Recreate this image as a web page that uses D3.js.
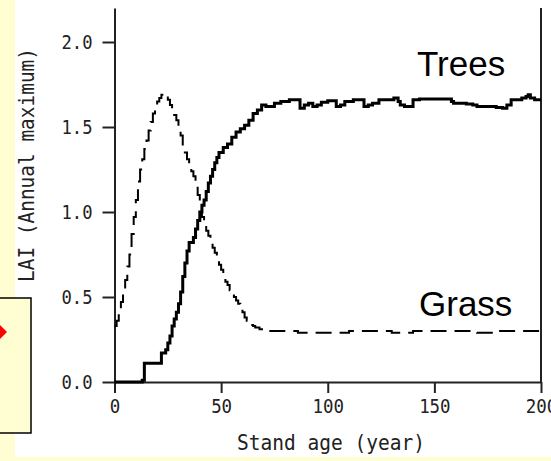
<!DOCTYPE html>
<meta charset="utf-8">
<script src="https://d3js.org/d3.v7.min.js"></script>
<style>
  body { margin: 0; }
</style>
<svg id="chart" width="551" height="461"></svg>
<script>

// Stand age (year) and annual max LAI
var treeYears = [0,13,14,21,22,24,25,26,27,28,29,30,31,32,33,34,35,37,38,39,40,41,42,43,44,45,46,47,48,49,51,53,55,57,59,61,63,65,67,69,71,73,75,78,82,85,87,89,91,93,95,97,100,103,104,106,108,112,116,117,119,121,124,128,131,133,134,136,139,140,143,150,156,158,159,163,165,168,170,174,176,179,182,184,186,189,191,193,194,195,197,200];
var treeLAI   = [0,0.01,0.11,0.11,0.17,0.19,0.23,0.27,0.33,0.37,0.41,0.46,0.53,0.62,0.70,0.77,0.82,0.85,0.90,0.95,1.00,1.04,1.07,1.12,1.17,1.21,1.25,1.29,1.32,1.35,1.38,1.40,1.44,1.47,1.49,1.51,1.54,1.58,1.60,1.63,1.62,1.62,1.64,1.65,1.66,1.66,1.61,1.63,1.64,1.62,1.63,1.645,1.655,1.655,1.62,1.63,1.65,1.66,1.66,1.62,1.63,1.64,1.66,1.66,1.67,1.65,1.63,1.62,1.62,1.66,1.665,1.665,1.665,1.65,1.64,1.64,1.635,1.63,1.62,1.62,1.62,1.615,1.61,1.63,1.66,1.66,1.67,1.68,1.69,1.67,1.66,1.66];

var grassYears = [0,1,2,3,4,5,6,7,8,9,10,11,12,13,14,15,16,17,18,19,20,21,22,23,24,25,26,27,28,29,30,31,32,33,34,35,36,37,38,39,40,41,42,43,44,45,46,47,48,49,50,51,52,53,54,55,56,57,58,59,60,61,62,63,64,65,66,68,70,75,80,86,90,100,110,120,130,140,150,160,170,175,180,190,200];
var grassLAI   = [0.33,0.36,0.42,0.47,0.53,0.60,0.68,0.75,0.87,0.97,1.07,1.18,1.25,1.31,1.37,1.42,1.48,1.53,1.58,1.62,1.65,1.67,1.69,1.695,1.68,1.66,1.63,1.60,1.57,1.54,1.50,1.45,1.39,1.35,1.31,1.27,1.24,1.21,1.16,1.10,1.03,0.97,0.93,0.89,0.86,0.83,0.79,0.76,0.72,0.69,0.66,0.62,0.59,0.57,0.54,0.52,0.50,0.48,0.46,0.44,0.41,0.38,0.36,0.345,0.335,0.33,0.32,0.31,0.30,0.30,0.30,0.29,0.29,0.29,0.30,0.30,0.29,0.30,0.30,0.30,0.29,0.29,0.30,0.30,0.30];

var xTicks = [0, 50, 100, 150, 200];
var yTicks = [0, 0.5, 1.0, 1.5, 2.0];

var svg = d3.select("#chart");

// page background: pale yellow frame round a white panel
svg.append("rect").attr("width", 551).attr("height", 461).attr("fill", "#fffdd2");
svg.append("rect").attr("x", 15).attr("y", 0).attr("width", 536).attr("height", 457).attr("fill", "#fff");

// scales
var x = d3.scaleLinear().domain([0, 200]).range([114.5, 541]);
var y = d3.scaleLinear().domain([0, 2.2]).range([382, 8]);

var monoFont = "DejaVu Sans Mono, Liberation Mono, monospace";

// y axis
var yAxis = svg.append("g")
  .attr("transform", "translate(" + x(0) + ",0)")
  .call(d3.axisLeft(y).tickValues(yTicks).tickFormat(d3.format(".1f"))
    .tickSize(12).tickSizeOuter(0).tickPadding(10));
yAxis.attr("font-family", monoFont).attr("font-size", 20);
yAxis.selectAll("text").attr("fill", "#222")
  .attr("textLength", function(d) { return 31; })
  .attr("lengthAdjust", "spacingAndGlyphs");

// x axis
var xAxis = svg.append("g")
  .attr("transform", "translate(0," + y(0) + ")")
  .call(d3.axisBottom(x).tickValues(xTicks).tickFormat(d3.format("d"))
    .tickSize(11).tickSizeOuter(0).tickPadding(6));
xAxis.attr("font-family", monoFont).attr("font-size", 20);
xAxis.selectAll("text").attr("fill", "#222")
  .attr("textLength", function(d) { return String(d).length * 10.5; })
  .attr("lengthAdjust", "spacingAndGlyphs");

svg.selectAll(".domain, .tick line").attr("stroke", "#222").attr("stroke-width", 2);

// right edge line
svg.append("line")
  .attr("x1", x(200)).attr("x2", x(200))
  .attr("y1", y(2.2)).attr("y2", y(0))
  .attr("stroke", "#222").attr("stroke-width", 2);

// axis titles
svg.append("text")
  .attr("x", 331).attr("y", 450)
  .attr("text-anchor", "middle")
  .attr("font-family", monoFont).attr("font-size", 22).attr("fill", "#222")
  .attr("textLength", 188).attr("lengthAdjust", "spacingAndGlyphs")
  .text("Stand age (year)");

svg.append("text")
  .attr("transform", "translate(34,165) rotate(-90)")
  .attr("text-anchor", "middle")
  .attr("font-family", monoFont).attr("font-size", 22).attr("fill", "#222")
  .attr("textLength", 234).attr("lengthAdjust", "spacingAndGlyphs")
  .text("LAI (Annual maximum)");

// lines
var line = d3.line()
  .x(function(d) { return x(d[0]); })
  .y(function(d) { return y(d[1]); })
  .curve(d3.curveStepAfter);

svg.append("path")
  .datum(d3.zip(grassYears, grassLAI))
  .attr("d", line)
  .attr("fill", "none")
  .attr("stroke", "#000")
  .attr("stroke-width", 2)
  .attr("stroke-dasharray", "16,8");

svg.append("path")
  .datum(d3.zip(treeYears, treeLAI))
  .attr("d", line)
  .attr("fill", "none")
  .attr("stroke", "#000")
  .attr("stroke-width", 3);

// series labels
svg.append("text")
  .attr("x", 417).attr("y", 76)
  .attr("font-family", "Liberation Sans, Arial, sans-serif").attr("font-size", 35)
  .text("Trees");
svg.append("text")
  .attr("x", 419).attr("y", 316)
  .attr("font-family", "Liberation Sans, Arial, sans-serif").attr("font-size", 35)
  .text("Grass");

// the little boxed panel on the left edge
svg.append("rect")
  .attr("x", -2).attr("y", 298).attr("width", 33).attr("height", 135)
  .attr("fill", "#fffdd2").attr("stroke", "#000").attr("stroke-width", 1.5);
svg.append("path")
  .attr("d", "M-7,332 L0,325 L7,332 L0,339 Z")
  .attr("fill", "#f00");

</script>
